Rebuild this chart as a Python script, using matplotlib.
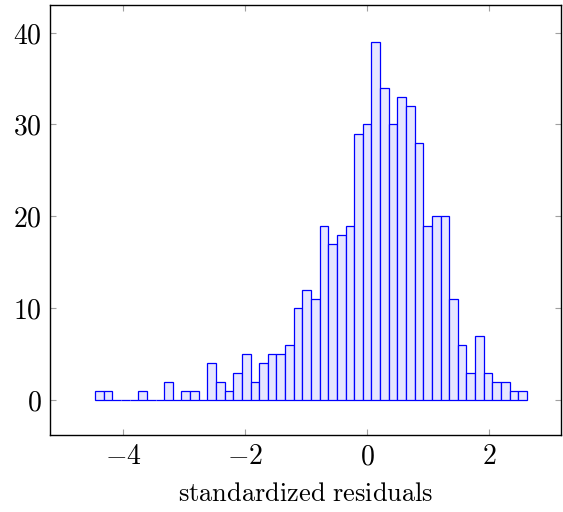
import numpy as np
import matplotlib
matplotlib.use("Agg")
import matplotlib.pyplot as plt

# histogram of standardized residuals: 50 equal bins between min and max
data_min = -4.46
data_max = 2.62
counts = [
    1, 1, 0, 0, 0, 1, 0, 0, 2, 0,
    1, 1, 0, 4, 2, 1, 3, 5, 2, 4,
    5, 5, 6, 10, 12, 11, 19, 17, 18, 19,
    29, 30, 39, 34, 30, 33, 32, 28, 19, 20,
    20, 11, 6, 3, 7, 3, 2, 2, 1, 1,
]
x_ticks = [-4, -2, 0, 2]
y_ticks = [0, 10, 20, 30, 40]
x_label = "standardized residuals"

plt.rcParams["mathtext.fontset"] = "cm"
plt.rcParams["font.family"] = "serif"
plt.rcParams["font.serif"] = ["DejaVu Serif"]

edges = np.linspace(data_min, data_max, len(counts) + 1)
width = edges[1] - edges[0]

fig = plt.figure(figsize=(5.63, 5.12), dpi=100)
ax = fig.add_axes([50 / 563, 77 / 512, 511 / 563, 430 / 512])

ax.bar(edges[:-1], counts, width=width, align="edge",
       facecolor="#e6e6ff", edgecolor="#0000ff", linewidth=0.9)

ax.set_xlim(-5.2, 3.18)
ax.set_ylim(-3.8, 43.0)

ax.set_xticks(x_ticks)
ax.set_xticklabels([rf"${t}$" for t in x_ticks], fontsize=20)
ax.set_yticks(y_ticks)
ax.set_yticklabels([rf"${t}$" for t in y_ticks], fontsize=20)
ax.tick_params(direction="in", length=4.5, width=0.8, color="#a0a0a0",
               top=True, right=True, pad=6)

for spine in ax.spines.values():
    spine.set_linewidth(1.0)
    spine.set_color("black")

ax.set_xlabel(rf"$\mathrm{{{x_label.replace(' ', '\\ ')}}}$", fontsize=19, labelpad=8)

fig.savefig("out.png", dpi=100)
